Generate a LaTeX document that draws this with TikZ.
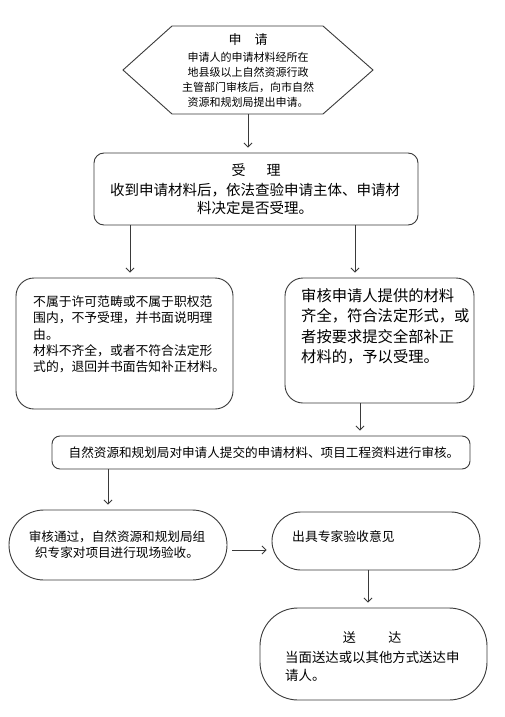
\documentclass[tikz,border=0pt]{standalone}
\usepackage{fontspec}
\setmainfont{Noto Sans CJK SC}
\usetikzlibrary{arrows.meta}
\definecolor{edge}{HTML}{3A3A3A}
\tikzset{
  box/.style={draw=edge, line width=0.9pt, rounded corners=#1, inner sep=0pt, fill=white},
  box/.default=10pt,
  txt/.style={inner sep=0pt, text=black},
  arr/.style={draw=edge, line width=0.8pt, -{Straight Barb[length=4pt,width=8pt]}, shorten >=5pt}
}
\begin{document}
\begin{tikzpicture}[x=1pt,y=-1pt]
\useasboundingbox[fill=white] (0,0) rectangle (505,717);
% hexagon (申请)
\draw[draw=edge, line width=0.9pt] (123,70) -- (172,26) -- (323,26) -- (373,70) -- (323,114) -- (172,114) -- cycle;
\node[inner sep=0pt, minimum width=150pt, minimum height=88pt] (hex) at (248,70) {};
\node[txt, font=\fontsize{13}{15}\selectfont] (hext) at (248,40) {申\hspace{1em}请};
\node[txt, align=center, font=\fontsize{11}{15}\selectfont] (hexb) at (248,79.5)
  {申请人的申请材料经所在\\地县级以上自然资源行政\\主管部门审核后，向市自然\\资源和规划局提出申请。};
% 受理
\node[box=10pt, minimum width=324pt, minimum height=72pt] (b2) at (256,189) {};
\node[txt, font=\fontsize{14}{19}\selectfont] (b2t) at (256,170.5) {受\hspace{1.5em}理};
\node[txt, align=center, font=\fontsize{14.5}{18.5}\selectfont] (b2b) at (255,199)
  {收到申请材料后，依法查验申请主体、申请材\\料决定是否受理。};
% left box
\node[box=18pt, minimum width=217pt, minimum height=131pt] (b3) at (124.5,343.5) {};
\node[txt, anchor=west, align=left, font=\fontsize{12.8}{16.3}\selectfont] (b3t) at (33,334.5)
  {不属于许可范畴或不属于职权范\\围内，不予受理，并书面说明理\\由。\\材料不齐全，或者不符合法定形\\式的，退回并书面告知补正材料。};
% right box
\node[box=18pt, minimum width=189pt, minimum height=125pt] (b4) at (379.5,340.5) {};
\node[txt, anchor=west, align=left, font=\fontsize{15.3}{20.5}\selectfont] (b4t) at (301,326.5)
  {审核申请人提供的材料\\齐全，符合法定形式，或\\者按要求提交全部补正\\材料的，予以受理。};
% review box
\node[box=8pt, minimum width=418pt, minimum height=33pt] (b5) at (261,452.5) {};
\node[txt, font=\fontsize{12.6}{15}\selectfont] (b5t) at (264,453)
  {自然资源和规划局对申请人提交的申请材料、项目工程资料进行审核。};
% site inspection
\node[box=35pt, minimum width=218pt, minimum height=70pt] (b6) at (118,545) {};
\node[txt, align=center, font=\fontsize{12.6}{15.5}\selectfont] (b6t) at (117,544.5)
  {审核通过，自然资源和规划局组\\织专家对项目进行现场验收。};
% expert opinion
\node[box=29pt, minimum width=208pt, minimum height=58pt] (b7) at (376,541) {};
\node[txt, anchor=west, font=\fontsize{12.8}{15}\selectfont] (b7t) at (292,537) {出具专家验收意见};
% delivery
\node[box=38pt, minimum width=227pt, minimum height=92pt] (b8) at (373.5,654) {};
\node[txt, font=\fontsize{13}{15}\selectfont] (b8t) at (372,638) {送\hspace{2.5em}达};
\node[txt, anchor=west, align=left, font=\fontsize{13.4}{18}\selectfont] (b8b) at (285,666)
  {当面送达或以其他方式送达申\\请人。};
% connectors
\draw[arr] (hex.south) -- (hex.south |- b2.north);
\coordinate (c3) at (130,0);
\coordinate (c4) at (355,0);
\draw[arr] (c3 |- b2.south) -- (c3 |- b3.north);
\draw[arr] (c4 |- b2.south) -- (c4 |- b4.north);
\coordinate (c5) at (360,0);
\draw[arr] (c5 |- b4.south) -- (c5 |- b5.north);
\coordinate (c6) at (108,0);
\draw[arr] (c6 |- b5.south) -- (c6 |- b6.north);
\coordinate (c7) at (0,550);
\draw[arr, shorten <=5pt] (c7 -| b6.east) -- (c7 -| b7.west);
\coordinate (c8) at (368,0);
\draw[arr] (c8 |- b7.south) -- (c8 |- b8.north);
\end{tikzpicture}
\end{document}
